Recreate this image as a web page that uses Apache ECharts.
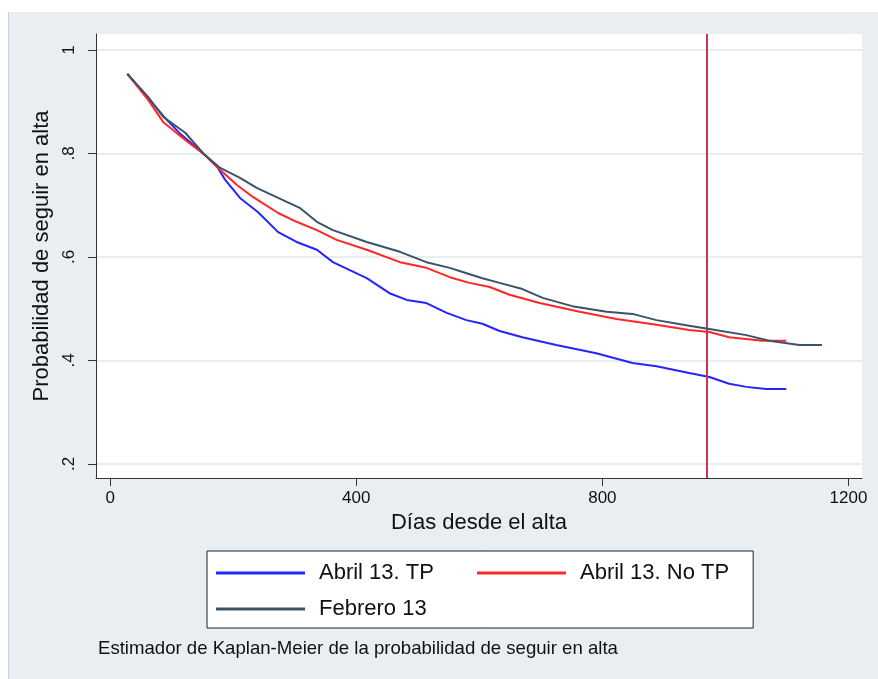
<!DOCTYPE html>
<html>
<head>
<meta charset="utf-8">
<script src="https://cdn.jsdelivr.net/npm/echarts@6/dist/echarts.min.js"></script>
<style>
  html, body { margin: 0; padding: 0; background: #ffffff; }
  #wrap { position: relative; width: 878px; height: 679px; overflow: hidden; }
  #bg { position: absolute; left: 8px; top: 12px; right: 0; bottom: 0; background: #e8eef2; border-left: 1px solid #c9d0d4; }
  #chart { position: absolute; left: 0; top: 0; width: 878px; height: 679px; }
</style>
</head>
<body>
<div id="wrap"><div id="bg"></div><div id="chart"></div></div>
<script>
// ---- Data ----
const seriesNames = ['Abril 13. TP', 'Abril 13. No TP', 'Febrero 13'];

const tpDays = [28, 62, 89, 114, 154, 174, 187, 211, 240, 273, 303, 336, 362, 417, 454, 482, 514, 547, 579, 605, 633, 670, 725, 790, 849, 888, 941, 974, 1006, 1034, 1066, 1099];
const tpSurv = [0.954, 0.907, 0.869, 0.838, 0.797, 0.774, 0.749, 0.714, 0.687, 0.648, 0.629, 0.614, 0.590, 0.559, 0.530, 0.517, 0.511, 0.492, 0.478, 0.471, 0.457, 0.445, 0.430, 0.414, 0.395, 0.389, 0.376, 0.368, 0.355, 0.349, 0.345, 0.345];

const noTpDays = [28, 62, 86, 122, 154, 179, 206, 232, 273, 303, 336, 368, 417, 471, 514, 552, 584, 617, 649, 698, 763, 823, 888, 941, 974, 1006, 1060, 1099];
const noTpSurv = [0.954, 0.903, 0.861, 0.826, 0.797, 0.768, 0.739, 0.716, 0.685, 0.668, 0.652, 0.633, 0.614, 0.590, 0.579, 0.561, 0.550, 0.542, 0.527, 0.511, 0.494, 0.480, 0.469, 0.459, 0.455, 0.445, 0.438, 0.438];

const febDays = [28, 62, 86, 122, 154, 179, 211, 239, 281, 308, 336, 362, 417, 471, 514, 552, 573, 605, 633, 670, 703, 751, 807, 849, 888, 941, 974, 1034, 1071, 1120, 1157];
const febSurv = [0.954, 0.909, 0.871, 0.840, 0.797, 0.772, 0.753, 0.733, 0.710, 0.695, 0.668, 0.652, 0.629, 0.610, 0.590, 0.579, 0.571, 0.559, 0.550, 0.538, 0.521, 0.505, 0.494, 0.490, 0.478, 0.467, 0.461, 0.449, 0.438, 0.430, 0.430];

const markerDay = 970;

const xTicks = [0, 400, 800, 1200];
const xTickLabels = ['0', '400', '800', '1200'];
const yTicks = [0.2, 0.4, 0.6, 0.8, 1];
const yTickLabels = ['.2', '.4', '.6', '.8', '1'];

const xTitle = 'Días desde el alta';
const yTitle = 'Probabilidad de seguir en alta';
const caption = 'Estimador de Kaplan-Meier de la probabilidad de seguir en alta';

// ---- Build chart ----
const FONT = '"Liberation Sans", Arial, sans-serif';
const colors = ['#2424ff', '#ff2626', '#3b5369'];
const zip = (a, b) => a.map((v, i) => [v, b[i]]);

const chart = echarts.init(document.getElementById('chart'), null, { renderer: 'canvas' });
chart.setOption({
  backgroundColor: 'transparent',
  animation: false,
  color: colors,
  title: {
    text: caption,
    left: 98, top: 639, padding: 0,
    textStyle: { fontFamily: FONT, fontSize: 18.6, fontWeight: 'normal', color: '#111' }
  },
  grid: {
    left: 96, right: 16, top: 34, bottom: 201,
    show: true, backgroundColor: '#ffffff', borderWidth: 0,
    containLabel: false, outerBoundsMode: 'none'
  },
  legend: {
    data: seriesNames,
    left: 207, top: 551,
    width: 520,
    orient: 'horizontal',
    padding: [10, 24, 7, 9],
    itemGap: 12,
    itemWidth: 89, itemHeight: 3,
    icon: 'rect',
    backgroundColor: '#ffffff',
    borderColor: '#222', borderWidth: 1,
    selectedMode: false,
    textStyle: { fontFamily: FONT, fontSize: 22, color: '#111', padding: [0, 0, 0, 9], width: 146, lineHeight: 24 }
  },
  xAxis: {
    type: 'value',
    min: -23, max: 1222,
    name: xTitle, nameLocation: 'middle', nameGap: 34,
    nameTextStyle: { fontFamily: FONT, fontSize: 22, color: '#111' },
    axisLine: { show: true, onZero: false, lineStyle: { color: '#333', width: 1 } },
    axisTick: { show: true, length: 8, customValues: xTicks, lineStyle: { color: '#333' } },
    axisLabel: {
      customValues: xTicks, margin: 12,
      fontFamily: FONT, fontSize: 17, color: '#111',
      formatter: v => xTickLabels[xTicks.indexOf(v)] ?? ''
    },
    splitLine: { show: false }
  },
  yAxis: {
    type: 'value',
    min: 0.1729, max: 1.0309,
    name: yTitle, nameLocation: 'middle', nameGap: 42,
    nameTextStyle: { fontFamily: FONT, fontSize: 22, color: '#111' },
    axisLine: { show: true, onZero: false, lineStyle: { color: '#333', width: 1 } },
    axisTick: { show: true, length: 8, customValues: yTicks, lineStyle: { color: '#333' } },
    axisLabel: {
      customValues: yTicks, rotate: 90, margin: 18,
      fontFamily: FONT, fontSize: 17, color: '#111',
      formatter: v => {
        const i = yTicks.findIndex(t => Math.abs(t - v) < 1e-6);
        return i >= 0 ? yTickLabels[i] : '';
      }
    },
    splitLine: { show: true, lineStyle: { color: '#e6eef0', width: 2 } }
  },
  series: [
    {
      name: seriesNames[0], type: 'line', data: zip(tpDays, tpSurv),
      showSymbol: false, symbol: 'none', lineStyle: { width: 2, color: colors[0] }, z: 3
    },
    {
      name: seriesNames[1], type: 'line', data: zip(noTpDays, noTpSurv),
      showSymbol: false, symbol: 'none', lineStyle: { width: 2, color: colors[1] }, z: 4
    },
    {
      name: seriesNames[2], type: 'line', data: zip(febDays, febSurv),
      showSymbol: false, symbol: 'none', lineStyle: { width: 2, color: colors[2] }, z: 5,
      markLine: {
        silent: true, symbol: ['none', 'none'],
        label: { show: false },
        lineStyle: { color: '#c8374f', width: 2, type: 'solid' },
        data: [{ xAxis: markerDay }]
      }
    }
  ]
});
</script>
</body>
</html>
